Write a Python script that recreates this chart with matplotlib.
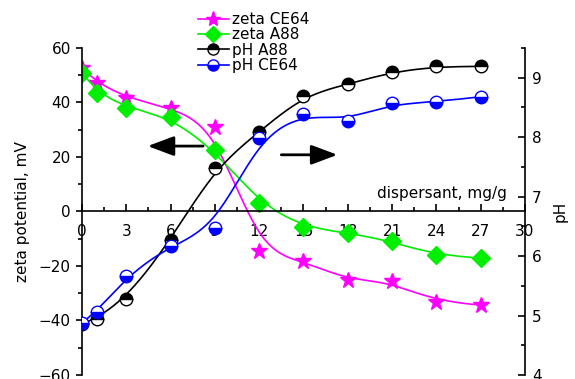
import numpy as np
import matplotlib
matplotlib.use('Agg')
import matplotlib.pyplot as plt
from matplotlib.lines import Line2D
from matplotlib.ticker import MultipleLocator

# ------------------------------ Layout ------------------------------
plt.rc('font', family='DejaVu Sans', size=11)
plt.rc('axes', linewidth=1.2)
plt.rc('xtick', labelsize=11)
plt.rc('ytick', labelsize=11)

# ------------------------------ Data --------------------------------
dispersant = [0, 1, 3, 6, 9, 12, 15, 18, 21, 24, 27]   # mg/g

zeta_CE64 = [52.7, 47.2, 41.7, 38.0, 31.0, -14.5, -18.2, -25.2, -25.6, -33.2, -34.3]
zeta_A88 = [51.0, 43.6, 38.1, 34.5, 22.4, 3.2, -5.7, -7.9, -10.9, -16.1, -17.1]
pH_A88 = [4.86, 4.95, 5.27, 6.27, 7.48, 8.09, 8.70, 8.89, 9.10, 9.19, 9.19]
pH_CE64 = [4.88, 5.06, 5.67, 6.17, 6.48, 7.99, 8.39, 8.28, 8.58, 8.59, 8.68]

x_ticks = np.arange(0, 31, 3)


# Origin style B-spline line connection (points act as control points)
def bspline(x, y, k=3, num=400):
    P = np.column_stack([x, y])
    n = len(P)
    t = np.concatenate([np.zeros(k), np.linspace(0, 1, n - k + 1), np.ones(k)])
    u = np.linspace(0, 1, num)
    N = np.zeros((num, len(t) - 1))
    for i in range(len(t) - 1):
        N[:, i] = (t[i] <= u) & (u < t[i + 1])
    N[-1, :] = 0
    N[-1, n - 1] = 1
    for d in range(1, k + 1):
        Nn = np.zeros((num, len(t) - 1 - d))
        for i in range(len(t) - 1 - d):
            a = 0.0
            b = 0.0
            if t[i + d] - t[i] > 0:
                a = (u - t[i]) / (t[i + d] - t[i]) * N[:, i]
            if t[i + d + 1] - t[i + 1] > 0:
                b = (t[i + d + 1] - u) / (t[i + d + 1] - t[i + 1]) * N[:, i + 1]
            Nn[:, i] = a + b
        N = Nn
    C = N @ P
    return C[:, 0], C[:, 1]


# ------------------------------ Plotting ----------------------------
magenta = '#ff00ff'
green = '#00ee00'
blue = '#0000ff'

fig = plt.figure(figsize=(5.75, 3.79), dpi=100)
ax = fig.add_axes([0.1426, 0.0106, 0.7704, 0.8628])
ax2 = ax.twinx()

# zeta potential (left axis)
ax.plot(*bspline(dispersant, zeta_CE64), color=magenta, lw=1.2)
ax.plot(dispersant, zeta_CE64, ls='none', marker='*', ms=12, color=magenta)
ax.plot(*bspline(dispersant, zeta_A88), color=green, lw=1.2)
ax.plot(dispersant, zeta_A88, ls='none', marker='D', ms=9, color=green)

# pH (right axis)
ax2.plot(*bspline(dispersant, pH_A88), color='k', lw=1.2)
ax2.plot(dispersant, pH_A88, ls='none', marker='o', ms=9, color='k',
         fillstyle='top', markerfacecoloralt='white', markeredgecolor='k', mew=1)
ax2.plot(*bspline(dispersant, pH_CE64), color=blue, lw=1.2)
ax2.plot(dispersant, pH_CE64, ls='none', marker='o', ms=9, color=blue,
         fillstyle='bottom', markerfacecoloralt='white', markeredgecolor=blue, mew=1)

# ++++++++++ Axes limits and spines ++++++++++
ax.set_xlim(0, 30)
ax.set_ylim(-60, 60)
ax2.set_ylim(4, 9.5)

ax.spines['bottom'].set_position(('data', 0))
ax.spines['top'].set_visible(False)
ax.spines['right'].set_visible(False)
ax2.spines['top'].set_visible(False)
ax2.spines['bottom'].set_visible(False)
ax2.spines['left'].set_visible(False)

# ++++++++++ Ticks ++++++++++
ax.set_xticks(x_ticks)
ax.xaxis.set_minor_locator(MultipleLocator(1.5))
ax.yaxis.set_major_locator(MultipleLocator(20))
ax.yaxis.set_minor_locator(MultipleLocator(10))
ax2.yaxis.set_major_locator(MultipleLocator(1))
ax2.yaxis.set_minor_locator(MultipleLocator(0.5))

ax.tick_params(axis='x', which='major', direction='in', length=5, width=1.2, pad=9)
ax.tick_params(axis='x', which='minor', direction='in', length=3, width=1.2)
ax.tick_params(axis='y', which='major', direction='out', length=4, width=1.2, pad=4)
ax.tick_params(axis='y', which='minor', direction='out', length=3, width=1.2)
ax2.tick_params(axis='y', which='major', direction='in', length=5, width=1.2, pad=5)
ax2.tick_params(axis='y', which='minor', direction='in', length=3, width=1.2)

# ++++++++++ Labels ++++++++++
ax.set_ylabel('zeta potential, mV', labelpad=6)
ax2.set_ylabel('pH', labelpad=8)
ax.text(28.8, 6.5, 'dispersant, mg/g', ha='right', va='center')

# ++++++++++ Arrows ++++++++++
arrow_style = dict(arrowstyle='-|>,head_length=0.8,head_width=0.3', color='k',
                   lw=2, mutation_scale=20, shrinkA=0, shrinkB=0)
ax.annotate('', xy=(4.45, 24), xytext=(8.2, 24), arrowprops=arrow_style)
ax.annotate('', xy=(17.3, 20.8), xytext=(13.5, 20.8), arrowprops=arrow_style)

# ++++++++++ Legend ++++++++++
handles = [
    Line2D([], [], color=magenta, marker='*', ms=11, lw=1.2),
    Line2D([], [], color=green, marker='D', ms=8, lw=1.2),
    Line2D([], [], color='k', marker='o', ms=8, lw=1.2, fillstyle='top',
           markerfacecoloralt='white', mew=1),
    Line2D([], [], color=blue, marker='o', ms=8, lw=1.2, fillstyle='bottom',
           markerfacecoloralt='white', mew=1),
]
labels = ['zeta CE64', 'zeta A88', 'pH A88', 'pH CE64']
fig.legend(handles, labels, loc='upper left', bbox_to_anchor=(198 / 575, 1 - 12 / 379),
           frameon=False, borderpad=0, borderaxespad=0, labelspacing=0.02,
           handlelength=2.0, handletextpad=0.2, fontsize=11)

fig.savefig('out.png', dpi=100)
